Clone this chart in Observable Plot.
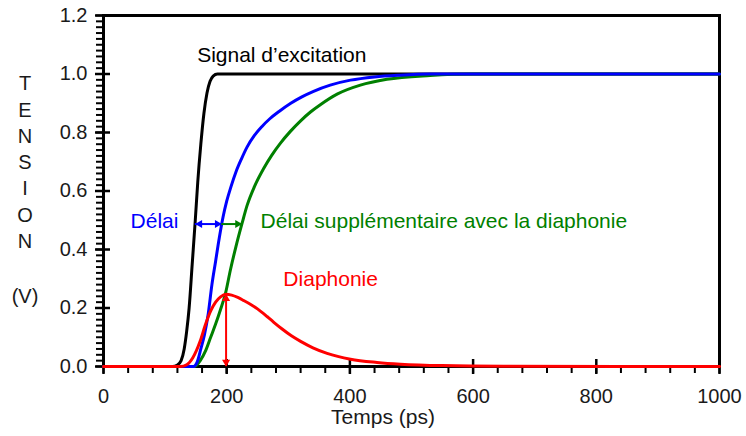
<!DOCTYPE html>
<html><head><meta charset="utf-8">
<script src="https://cdn.jsdelivr.net/npm/d3@7"></script>
<script src="https://cdn.jsdelivr.net/npm/@observablehq/plot@0.6"></script>
<style>body{margin:0;background:#fff;} svg{display:block;}</style>
</head><body><div id="chart"></div>
<script>
// ---- data (time in ps, voltage in V) ----
const blackT = [0,112,120,126,131,135,139,144,149,153,158,163,168,173,178,185,195,1000];
const blackV = [0,0,0.005,0.02,0.06,0.12,0.2,0.35,0.5,0.63,0.76,0.865,0.935,0.975,0.993,1,1,1];
const blueT  = [0,146,152,158,164,170,176,182,188,194,200,207,215,224,233,245,257,270,285,304,322,341,368,401,440,480,530,1000];
const blueV  = [0,0,0.015,0.06,0.11,0.18,0.28,0.36,0.44,0.51,0.565,0.615,0.665,0.71,0.75,0.79,0.82,0.847,0.872,0.9,0.922,0.941,0.962,0.979,0.99,0.996,1,1];
const greenT = [0,148,157,166,174,182,190,198,206,215,225,233,245,260,273,287,303,320,336,352,380,417,460,530,600,1000];
const greenV = [0,0,0.02,0.055,0.1,0.145,0.195,0.25,0.33,0.41,0.49,0.55,0.615,0.677,0.722,0.763,0.803,0.84,0.87,0.895,0.932,0.962,0.982,0.995,1,1];
const redT   = [0,125,135,145,157,165,174,182,190,199,208,218,228,239,250,266,276,290,305,320,340,363,401,444,482,550,650,1000];
const redV   = [0,0,0.006,0.03,0.087,0.14,0.19,0.22,0.238,0.247,0.244,0.236,0.225,0.212,0.197,0.17,0.152,0.128,0.105,0.086,0.064,0.045,0.025,0.014,0.008,0.003,0.001,0];

const xMajor = [0,200,400,600,800,1000];
const xMinor = d3.range(0, 1001, 40);
const yMajor = [0,0.2,0.4,0.6,0.8,1.0,1.2];
const yMinor = d3.range(0, 61).map(i => i * 0.02);

const labels = [
  {text: "Signal d’excitation", x: 152, y: 1.063, color: "#000000"},
  {text: "Délai", x: 44, y: 0.495, color: "#0000ff"},
  {text: "Délai supplémentaire avec la diaphonie", x: 255, y: 0.495, color: "#008000"},
  {text: "Diaphonie", x: 292, y: 0.297, color: "#ff0000"}
];
const delayArrow = [{x1: 149, x2: 192, y: 0.487}];
const extraArrow = [{x1: 192, x2: 225, y: 0.487}];
const crossArrow = [{x: 199, y1: 0, y2: 0.247}];

const yTitleLetters = ["T","E","N","S","I","O","N"];
const yUnit = "(V)";
const xTitle = "Temps (ps)";

const toRows = (T, V) => T.map((t, i) => ({t, v: V[i]}));
const BLUE = "#0000ff", GREEN = "#008000", RED = "#ff0000";

const chart = Plot.plot({
  width: 746, height: 436,
  marginLeft: 103, marginRight: 27, marginTop: 15, marginBottom: 70,
  style: {fontFamily: "'Liberation Sans', Arial, sans-serif", fontSize: "20px", color: "#1a1a1a", background: "white"},
  x: {domain: [0, 1000]},
  y: {domain: [0, 1.2]},
  marks: [
    Plot.axisX(xMinor, {tickSize: 7, fill: "none", label: null, stroke: "black", strokeWidth: 2}),
    Plot.axisX(xMajor, {tickSize: 8, tickPadding: 14, tickFormat: d => String(d), label: null, stroke: "black", strokeWidth: 2.5, fill: "#1a1a1a"}),
    Plot.axisX(xMajor, {tickSize: 7, dy: -7, fill: "none", label: null, stroke: "black", strokeWidth: 2.5}),
    Plot.axisY(yMinor, {tickSize: 7, fill: "none", label: null, stroke: "black", strokeWidth: 2}),
    Plot.axisY(yMajor, {tickSize: 8, tickPadding: 8, tickFormat: d => d.toFixed(1), label: null, stroke: "black", strokeWidth: 2.5, fill: "#1a1a1a"}),
    Plot.axisY(yMajor, {tickSize: 7, dx: 7, fill: "none", label: null, stroke: "black", strokeWidth: 2.5}),
    Plot.frame({stroke: "black", strokeWidth: 3}),
    Plot.line(toRows(blackT, blackV), {x: "t", y: "v", stroke: "#000000", strokeWidth: 3, curve: "monotone-x"}),
    Plot.line(toRows(greenT, greenV), {x: "t", y: "v", stroke: GREEN, strokeWidth: 3, curve: "monotone-x"}),
    Plot.line(toRows(blueT, blueV), {x: "t", y: "v", stroke: BLUE, strokeWidth: 3, curve: "monotone-x"}),
    Plot.line(toRows(redT, redV), {x: "t", y: "v", stroke: RED, strokeWidth: 3, curve: "monotone-x"}),
    // arrows
    Plot.ruleY(delayArrow, {y: "y", x1: "x1", x2: "x2", stroke: BLUE, strokeWidth: 2}),
    Plot.dot(delayArrow, {x: "x1", y: "y", symbol: "triangle", rotate: -90, r: 3, fill: BLUE, stroke: "none", dx: 4.5}),
    Plot.dot(delayArrow, {x: "x2", y: "y", symbol: "triangle", rotate: 90, r: 3, fill: BLUE, stroke: "none", dx: -4.5}),
    Plot.ruleY(extraArrow, {y: "y", x1: "x1", x2: "x2", stroke: GREEN, strokeWidth: 2}),
    Plot.dot(extraArrow, {x: "x2", y: "y", symbol: "triangle", rotate: 90, r: 3, fill: GREEN, stroke: "none", dx: -4.5}),
    Plot.ruleX(crossArrow, {x: "x", y1: "y1", y2: "y2", stroke: RED, strokeWidth: 2}),
    Plot.dot(crossArrow, {x: "x", y: "y2", symbol: "triangle", rotate: 0, r: 3, fill: RED, stroke: "none", dy: 4.5}),
    Plot.dot(crossArrow, {x: "x", y: "y1", symbol: "triangle", rotate: 180, r: 3, fill: RED, stroke: "none", dy: -4.5}),
    // annotations
    Plot.text(labels, {x: "x", y: "y", text: "text", fill: "color", textAnchor: "start", fontSize: 21})
  ]
});

const svg = d3.select(chart);
const g = svg.append("g").attr("font-family", "'Liberation Sans', Arial, sans-serif").attr("font-size", 20).attr("fill", "#1a1a1a").attr("text-anchor", "middle");
yTitleLetters.forEach((ch, i) => {
  g.append("text").attr("x", 25).attr("y", 83 + i * 26.3).attr("dy", "0.36em").text(ch);
});
g.append("text").attr("x", 25).attr("y", 296).attr("dy", "0.36em").text(yUnit);
g.append("text").attr("x", 383).attr("y", 416).attr("dy", "0.36em").attr("font-size", 21).text(xTitle);

document.getElementById("chart").appendChild(chart);
</script>
</body></html>
